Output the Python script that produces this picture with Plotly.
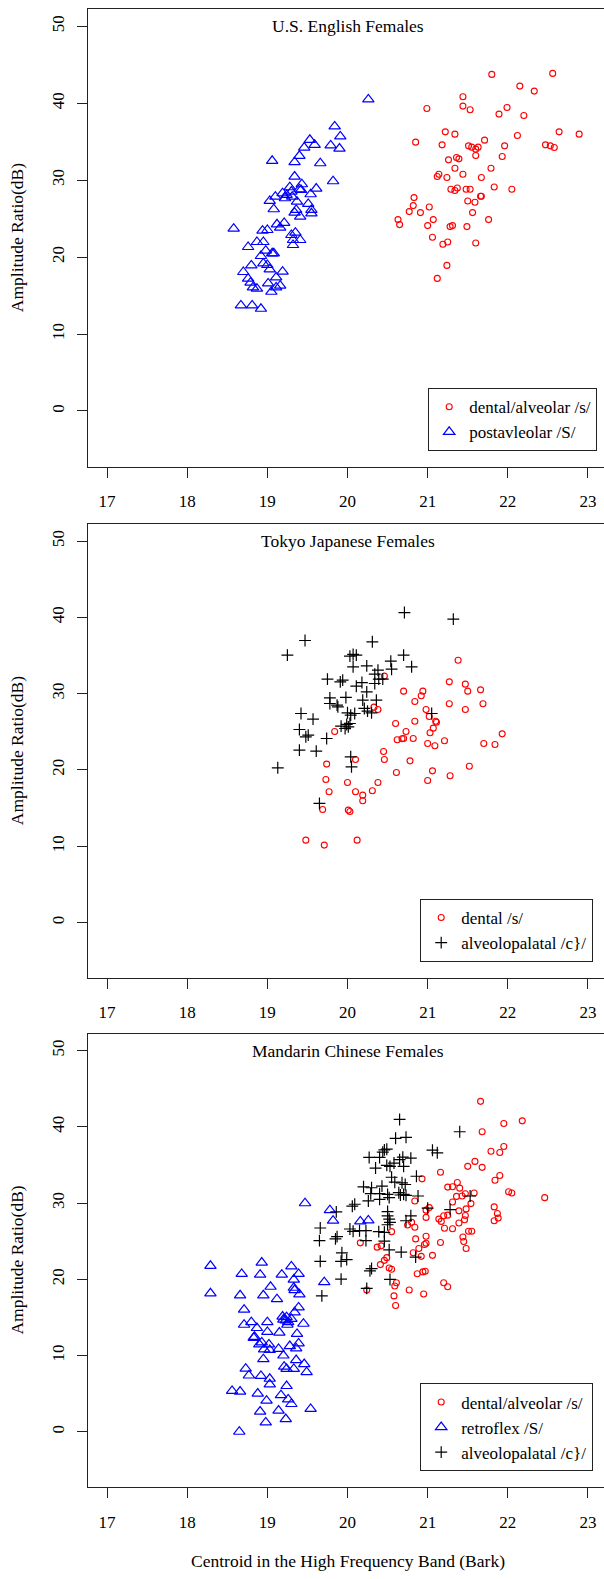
import plotly.graph_objects as go

# ---------------- data ----------------
# Panel 1: U.S. English Females
eng_s_x = [21.80, 22.56, 22.15, 22.33, 21.44, 20.99, 21.44, 21.53, 21.99, 21.89,
           22.20, 21.22, 21.34, 22.64, 22.89, 20.85, 21.18, 22.12, 21.71, 21.51,
           21.55, 21.60, 21.63, 21.96, 21.60, 21.93, 22.47, 22.53, 22.58, 21.26,
           21.36, 21.39, 21.34, 21.79, 21.44, 21.14, 21.12, 21.24, 21.67, 21.29,
           21.34, 21.37, 21.48, 21.53, 21.83, 22.05, 21.66, 21.67, 21.50, 21.59,
           20.83, 20.82, 21.02, 20.77, 20.91, 21.56, 20.63, 20.65, 21.07, 21.76,
           21.00, 21.28, 21.31, 21.49, 21.06, 21.25, 21.19, 21.60, 21.24, 21.12]
eng_s_y = [43.75, 43.88, 42.23, 41.58, 40.84, 39.32, 39.63, 39.15, 39.45, 38.59,
           38.41, 36.28, 35.98, 36.28, 35.98, 34.94, 34.59, 35.81, 35.20, 34.46,
           34.29, 34.03, 34.29, 34.46, 33.20, 33.07, 34.59, 34.46, 34.25, 32.64,
           32.94, 32.77, 31.55, 31.55, 30.77, 30.77, 30.47, 30.34, 30.34, 28.82,
           28.65, 28.99, 28.82, 28.82, 29.12, 28.82, 27.91, 27.91, 27.30, 27.13,
           27.73, 26.69, 26.52, 25.91, 25.78, 25.78, 24.87, 24.22, 24.87, 24.87,
           24.09, 23.96, 24.09, 23.96, 22.57, 21.96, 21.66, 21.83, 18.92, 17.23]
eng_S_x = [18.58, 18.67, 18.81, 18.92, 18.70, 18.76, 18.79, 18.82, 18.87, 18.76,
           18.80, 18.87, 18.92, 18.95, 18.98, 18.94, 19.00, 18.95, 19.00, 19.03,
           19.01, 19.05, 19.11, 19.16, 19.11, 19.19, 19.08, 19.06, 19.03, 19.08,
           19.10, 19.12, 19.16, 19.21, 19.06, 19.19, 19.22, 19.24, 19.28, 19.30,
           19.31, 19.34, 19.37, 19.40, 19.43, 19.34, 19.34, 19.40, 19.46, 19.53,
           19.59, 19.42, 19.54, 19.61, 19.51, 19.55, 19.55, 19.41, 19.36, 19.30,
           19.35, 19.32, 19.32, 19.41, 19.66, 19.79, 19.84, 19.91, 19.90, 19.82, 20.26]
eng_S_y = [23.70, 13.72, 13.72, 13.28, 18.06, 17.19, 16.67, 16.06, 15.89, 21.31,
           18.92, 21.96, 20.14, 21.96, 20.83, 23.44, 23.52, 19.18, 18.97, 18.40,
           16.58, 15.49, 16.06, 16.28, 17.36, 18.10, 20.49, 20.49, 27.30, 26.22,
           27.86, 24.26, 23.83, 24.44, 32.51, 28.30, 27.65, 28.08, 29.08, 28.52,
           27.86, 25.78, 27.21, 28.82, 29.47, 30.47, 32.34, 33.16, 34.24, 35.24,
           34.59, 28.73, 28.17, 28.91, 26.91, 26.13, 25.69, 25.26, 26.13, 22.87,
           23.18, 22.22, 21.57, 22.22, 32.20, 34.51, 36.98, 35.68, 34.11, 29.86, 40.49]

# Panel 2: Tokyo Japanese Females
jpn_s_x = [20.46, 21.38, 20.70, 20.94, 20.92, 20.84, 21.27, 21.47, 21.50, 21.66,
           21.69, 21.27, 21.47, 20.98, 20.38, 20.33, 21.02, 21.10, 21.11, 20.84,
           20.60, 21.07, 20.73, 21.03, 20.62, 20.68, 20.70, 20.82, 21.00, 21.09,
           21.21, 21.70, 21.84, 21.93, 19.84, 20.45, 20.46, 20.78, 20.10, 19.74,
           20.61, 21.06, 21.00, 21.28, 21.52, 19.73, 20.00, 20.38, 19.77, 20.10,
           20.19, 20.31, 20.19, 19.69, 20.01, 20.03, 19.48, 19.71, 20.12]
jpn_s_y = [32.30, 34.39, 30.33, 30.33, 29.72, 28.97, 31.55, 31.25, 30.33, 30.50,
           28.67, 28.67, 27.92, 27.92, 27.92, 28.23, 27.01, 26.39, 26.26, 26.39,
           26.09, 25.48, 25.04, 24.87, 23.95, 24.08, 24.12, 24.12, 23.47, 23.16,
           23.82, 23.47, 23.34, 24.73, 25.04, 22.42, 21.37, 21.19, 21.37, 20.76,
           19.66, 19.88, 18.62, 19.23, 20.49, 18.75, 18.35, 18.35, 17.13, 17.13,
           16.69, 17.26, 15.95, 14.81, 14.73, 14.55, 10.79, 10.14, 10.79]
jpn_c_x = [20.71, 21.32, 19.47, 20.31, 19.25, 20.03, 20.07, 20.11, 20.70, 20.54,
           20.07, 20.24, 20.55, 20.80, 20.38, 20.34, 19.75, 19.94, 19.91, 20.18,
           20.11, 20.39, 20.44, 20.34, 20.24, 19.78, 19.98, 19.78, 19.87, 19.88,
           20.36, 20.19, 20.21, 20.25, 20.30, 19.42, 19.57, 20.00, 20.04, 20.09,
           19.92, 19.99, 20.01, 20.03, 19.97, 19.40, 19.51, 19.48, 19.74, 19.40,
           19.61, 19.13, 20.04, 20.05, 19.65, 21.05]
jpn_c_y = [40.64, 39.77, 36.97, 36.80, 35.05, 34.92, 35.14, 35.05, 35.05, 34.26,
           33.52, 33.65, 33.21, 33.52, 33.08, 32.56, 31.90, 31.77, 31.55, 31.46,
           30.98, 31.90, 31.90, 31.33, 30.24, 29.45, 29.50, 28.71, 28.49, 28.27,
           29.15, 29.15, 28.06, 27.71, 27.49, 27.40, 26.66, 27.49, 27.18, 27.40,
           25.74, 25.96, 25.65, 26.09, 25.43, 25.30, 24.56, 24.34, 24.12, 22.59,
           22.46, 20.28, 21.72, 20.41, 15.60, 27.40]

# Panel 3: Mandarin Chinese Females
man_s_x = [20.93, 21.16, 21.25, 20.84, 21.02, 20.98, 20.98, 21.14, 21.17, 21.20,
           21.25, 21.21, 20.75, 20.84, 20.80, 20.85, 20.98, 20.98, 20.96, 21.16,
           20.89, 20.82, 20.92, 21.06, 20.55, 20.16, 20.37, 20.42, 20.49, 20.46,
           20.41, 20.52, 20.55, 20.87, 20.94, 20.97, 20.61, 20.59, 20.77, 20.95,
           20.58, 20.60, 20.24, 21.20, 21.25,
           21.66, 21.95, 22.18, 21.68, 21.79, 21.90, 21.95, 21.50, 21.59, 21.68,
           21.84, 21.90, 21.31, 21.37, 21.40, 21.36, 21.43, 21.47, 21.58, 21.54,
           21.31, 22.01, 22.05, 22.46, 21.83, 21.87, 21.88, 21.83, 21.39, 21.48,
           21.47, 21.46, 21.39, 21.31, 21.51, 21.55, 21.44, 21.45, 21.48]
man_s_y = [33.18, 34.04, 32.10, 30.28, 29.41, 29.07, 28.12, 27.90, 27.60, 28.33,
           28.42, 26.69, 27.12, 26.82, 27.47, 25.30, 25.65, 24.74, 24.57, 24.83,
           24.05, 23.48, 23.01, 23.14, 26.25, 24.78, 24.22, 24.39, 22.84, 22.49,
           21.93, 21.49, 21.32, 20.72, 20.97, 21.06, 19.55, 19.12, 18.59, 18.08,
           17.82, 16.56, 18.59, 19.55, 19.03,
           43.35, 40.45, 40.79, 39.36, 36.81, 36.64, 37.42, 34.82, 35.47, 34.69,
           33.00, 33.61, 32.14, 32.70, 31.96, 30.88, 30.93, 31.23, 31.32, 29.93,
           30.15, 31.49, 31.32, 30.71, 29.50, 28.63, 28.03, 27.68, 28.98, 29.24,
           28.37, 27.81, 27.38, 26.64, 26.30, 26.30, 25.56, 24.96, 24.05]
man_S_x = [19.47, 18.29, 18.29, 18.93, 18.68, 18.91, 19.18, 19.30, 19.39, 19.33,
           19.04, 18.95, 18.66, 19.12, 19.33, 19.34, 19.40, 18.71, 19.39, 19.34,
           19.45, 18.71, 18.80, 18.87, 19.00, 19.19, 19.24, 19.23, 19.20, 19.26,
           19.30, 19.25, 19.15, 18.84, 18.83, 19.00, 18.93, 19.02, 18.90, 18.96,
           19.03, 19.14, 19.37, 19.39, 19.28, 19.36, 19.20, 18.95, 18.73, 18.77,
           18.92, 19.03, 19.03, 19.21, 19.24, 19.33, 19.36, 19.46, 19.49, 18.56,
           18.66, 18.88, 18.99, 19.24, 19.17, 19.26, 19.30, 19.54, 18.91, 19.14,
           18.98, 19.23, 18.65, 19.78, 19.82, 19.71, 20.16, 20.26]
man_S_y = [29.98, 21.77, 18.16, 22.20, 20.70, 20.61, 20.61, 21.69, 20.70, 19.97,
           19.02, 17.90, 17.90, 17.39, 18.89, 18.59, 18.03, 16.01, 16.31, 15.67,
           14.17, 14.04, 14.38, 13.61, 14.38, 15.11, 15.03, 14.60, 14.72, 14.38,
           14.81, 14.04, 13.01, 12.45, 12.32, 13.09, 11.72, 11.46, 11.46, 10.81,
           10.73, 10.86, 12.83, 11.59, 11.24, 10.94, 10.00, 9.52, 8.28, 7.38,
           7.33, 6.95, 6.22, 8.54, 8.24, 8.24, 9.40, 8.88, 7.81, 5.36,
           5.27, 5.01, 4.07, 6.00, 4.80, 4.24, 3.64, 3.00, 2.65, 2.78,
           1.23, 1.66, 0.00, 29.07, 27.69, 19.63, 27.59, 27.73]
man_c_x = [20.65, 20.60, 20.73, 20.46, 20.49, 20.44, 20.27, 20.40, 20.35, 20.49,
           20.53, 20.58, 20.65, 20.69, 20.79, 20.70, 20.86, 20.55, 20.59, 20.68,
           20.72, 20.20, 20.30, 20.43, 20.29, 20.40, 20.50, 20.64, 20.66, 20.70,
           20.73, 20.88, 20.26, 20.09, 20.06, 20.40, 20.52, 19.86, 21.00, 20.50,
           20.50, 20.52, 20.53, 20.50, 20.79, 20.73, 19.66, 20.03, 20.07, 20.15,
           20.23, 20.39, 20.46, 19.65, 19.85, 19.87, 20.23, 20.46, 19.93, 19.99,
           19.92, 19.66, 20.52, 20.67, 20.85, 20.30, 20.28, 19.92, 20.53, 20.24,
           19.68, 21.40, 21.06, 21.12, 21.53, 21.28]
man_c_y = [40.97, 38.50, 38.63, 36.98, 37.07, 36.68, 35.99, 35.99, 34.60, 34.95,
           34.82, 35.25, 35.69, 36.03, 35.90, 34.82, 33.52, 33.39, 32.74, 32.66,
           32.44, 32.14, 32.01, 32.22, 31.23, 31.23, 31.14, 31.36, 31.06, 31.14,
           31.01, 30.93, 30.28, 29.85, 29.59, 30.50, 30.71, 28.85, 29.33, 28.89,
           28.33, 27.90, 27.47, 27.16, 28.33, 27.68, 26.73, 26.60, 26.30, 26.38,
           26.38, 26.25, 26.17, 25.08, 25.30, 25.60, 25.08, 25.00, 23.48, 22.58,
           22.36, 22.36, 23.87, 23.57, 22.92, 21.41, 21.10, 20.02, 19.98, 18.81,
           17.82, 39.36, 36.94, 36.60, 30.93, 29.15]

panel_titles = ["U.S. English Females", "Tokyo Japanese Females", "Mandarin Chinese Females"]
x_ticks = [17, 18, 19, 20, 21, 22, 23]
y_ticks = [0, 10, 20, 30, 40, 50]
y_title = "Amplitude Ratio(dB)"
x_title = "Centroid in the High Frequency Band (Bark)"

# ---------------- styling ----------------
FONT = "Liberation Serif"
W, H = 604, 1579
RED, BLUE, BLACK = "#FF0000", "#0000FF", "#000000"

circ = dict(symbol="circle-open", size=6, color=RED, line=dict(color=RED, width=1.1))
tri = dict(symbol="triangle-up-open", size=10, color=BLUE, line=dict(color=BLUE, width=1.2))
plus = dict(symbol="cross-thin-open", size=8.5, color=BLACK, line=dict(color=BLACK, width=1.2))

# plot areas in pixels (top, bottom)
panels_px = [(9, 466.7), (524, 977.7), (1033.5, 1487)]
x_left_px = 87.8

fig = go.Figure()

series = [
    (1, "legend", [(eng_s_x, eng_s_y, circ, "dental/alveolar /s/"),
                   (eng_S_x, eng_S_y, tri, "postavleolar /S/")]),
    (2, "legend2", [(jpn_s_x, jpn_s_y, circ, "dental /s/"),
                    (jpn_c_x, jpn_c_y, plus, "alveolopalatal /c}/")]),
    (3, "legend3", [(man_s_x, man_s_y, circ, "dental/alveolar /s/"),
                    (man_S_x, man_S_y, tri, "retroflex /S/"),
                    (man_c_x, man_c_y, plus, "alveolopalatal /c}/")]),
]

for idx, leg, items in series:
    suffix = "" if idx == 1 else str(idx)
    for xs, ys, mk, name in items:
        fig.add_trace(go.Scatter(
            x=xs, y=ys, mode="markers", marker=mk, name=name,
            xaxis="x" + suffix, yaxis="y" + suffix, legend=leg,
            hoverinfo="skip", showlegend=True))

layout = dict(
    width=W, height=H,
    margin=dict(l=0, r=0, t=0, b=0, autoexpand=False),
    paper_bgcolor="white", plot_bgcolor="white",
    font=dict(family=FONT, size=17, color="black"),
    annotations=[], showlegend=True,
)

legend_pos = [(428, 419.5), (420, 930.3), (420, 1427.2)]

for i, (top, bot) in enumerate(panels_px):
    n = i + 1
    suffix = "" if n == 1 else str(n)
    dom_y = [1 - bot / H, 1 - top / H]
    layout["xaxis" + suffix] = dict(
        domain=[x_left_px / W, 1.0], range=[16.76, 23.2],
        anchor="y" + suffix, tickvals=x_ticks, ticks="outside", ticklen=10,
        tickwidth=1.1, tickcolor="#222", showline=True, linecolor="#222",
        linewidth=1.3, mirror=True, showgrid=False, zeroline=False,
        tickfont=dict(family=FONT, size=17, color="black"),
        ticklabelstandoff=9, fixedrange=True)
    layout["yaxis" + suffix] = dict(
        domain=dom_y, range=[-7.25, 52.25], anchor="x" + suffix,
        tickvals=y_ticks, ticks="outside", ticklen=10, tickwidth=1.1,
        tickcolor="#222", showline=True, linecolor="#222", linewidth=1.3,
        mirror=False, showgrid=False, zeroline=False, tickangle=-90,
        tickfont=dict(family=FONT, size=17, color="black"),
        ticklabelstandoff=6, fixedrange=True)
    # panel title inside plot at data (20, 50)
    layout["annotations"].append(dict(
        text=panel_titles[i], x=20, y=50, xref="x" + suffix, yref="y" + suffix,
        showarrow=False, xanchor="center", yanchor="middle",
        font=dict(family=FONT, size=17.5, color="black")))
    # y axis title
    layout["annotations"].append(dict(
        text=y_title, x=17.3 / W, y=1 - (top + bot) / 2 / H, xref="paper",
        yref="paper", textangle=-90, showarrow=False, xanchor="center",
        yanchor="middle", font=dict(family=FONT, size=17.5, color="black")))
    lx, ly = legend_pos[i]
    layout["legend" + suffix] = dict(
        x=lx / W, y=1 - ly / H, xanchor="left", yanchor="middle",
        xref="paper", yref="paper",
        bgcolor="white", bordercolor="#222", borderwidth=1.2,
        font=dict(family=FONT, size=17, color="black"),
        itemclick=False, itemdoubleclick=False)

layout["annotations"].append(dict(
    text=x_title, x=347.8 / W, y=1 - 1561 / H, xref="paper", yref="paper",
    showarrow=False, xanchor="center", yanchor="middle",
    font=dict(family=FONT, size=17.5, color="black")))

fig.update_layout(**layout)
fig.write_html("out.html", config={"displayModeBar": False},
               post_script="document.body.style.margin='0';document.body.style.overflow='hidden';")
